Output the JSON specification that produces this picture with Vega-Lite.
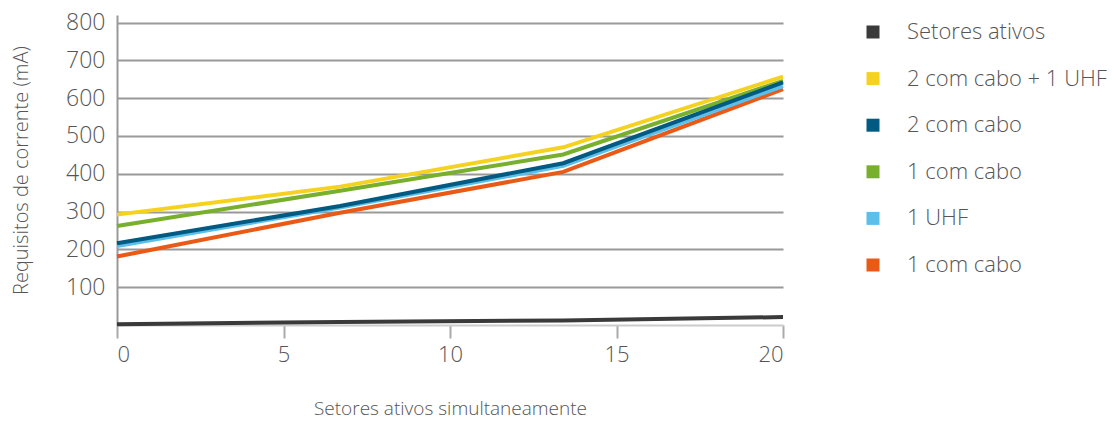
{
  "$schema": "https://vega.github.io/schema/vega-lite/v6.json",
  "width": 666,
  "height": 310,
  "autosize": {"type": "none"},
  "padding": {"left": 117, "top": 15, "right": 333, "bottom": 97},
  "config": {
    "view": {"stroke": null},
    "font": "Open Sans",
    "axis": {"labelColor": "#555", "titleColor": "#555", "labelFont": "Open Sans", "titleFont": "Open Sans", "labelFontWeight": 300, "titleFontWeight": 300}
  },
  "data": {
    "values": [
      {"x": 0, "y": 2, "s": "Setores ativos"},
      {"x": 6.7, "y": 8, "s": "Setores ativos"},
      {"x": 13.4, "y": 12, "s": "Setores ativos"},
      {"x": 20, "y": 21, "s": "Setores ativos"},
      {"x": 0, "y": 181, "s": "1 com cabo "},
      {"x": 6.7, "y": 297, "s": "1 com cabo "},
      {"x": 13.4, "y": 405, "s": "1 com cabo "},
      {"x": 20, "y": 624, "s": "1 com cabo "},
      {"x": 0, "y": 209, "s": "1 UHF"},
      {"x": 6.7, "y": 311, "s": "1 UHF"},
      {"x": 13.4, "y": 421, "s": "1 UHF"},
      {"x": 20, "y": 632, "s": "1 UHF"},
      {"x": 0, "y": 262, "s": "1 com cabo"},
      {"x": 6.7, "y": 355, "s": "1 com cabo"},
      {"x": 13.4, "y": 451, "s": "1 com cabo"},
      {"x": 20, "y": 646, "s": "1 com cabo"},
      {"x": 0, "y": 216, "s": "2 com cabo"},
      {"x": 6.7, "y": 315, "s": "2 com cabo"},
      {"x": 13.4, "y": 428, "s": "2 com cabo"},
      {"x": 20, "y": 642, "s": "2 com cabo"},
      {"x": 0, "y": 292, "s": "2 com cabo + 1 UHF"},
      {"x": 6.7, "y": 366, "s": "2 com cabo + 1 UHF"},
      {"x": 13.4, "y": 470, "s": "2 com cabo + 1 UHF"},
      {"x": 20, "y": 657, "s": "2 com cabo + 1 UHF"}
    ]
  },
  "mark": {"type": "line", "strokeWidth": 4, "strokeCap": "butt"},
  "encoding": {
    "x": {
      "field": "x", "type": "quantitative",
      "scale": {"domain": [0, 20], "nice": false},
      "axis": {
        "values": [0, 5, 10, 15, 20], "grid": false,
        "title": "Setores ativos simultaneamente", "titleFontSize": 19, "titlePadding": 34,
        "labelFontSize": 22, "labelPadding": 6, "tickSize": 13, "tickColor": "#aaa", "tickWidth": 2,
        "domainColor": "#ccc", "domainWidth": 2
      }
    },
    "y": {
      "field": "y", "type": "quantitative",
      "scale": {"domain": [0, 820], "nice": false},
      "axis": {
        "values": [100, 200, 300, 400, 500, 600, 700, 800],
        "grid": true, "gridColor": "#999", "gridWidth": 2,
        "domainColor": "#999", "domainWidth": 2, "ticks": false, "tickSize": 0,
        "labelFontSize": 23, "labelPadding": 12,
        "title": "Requisitos de corrente (mA)", "titleFontSize": 20, "titlePadding": 34
      }
    },
    "color": {
      "field": "s", "type": "nominal",
      "scale": {
        "domain": ["Setores ativos", "2 com cabo + 1 UHF", "2 com cabo", "1 com cabo", "1 UHF", "1 com cabo "],
        "range": ["#3a3a3a", "#f5d21f", "#005a82", "#78b02e", "#5bbfea", "#ea5a16"]
      },
      "legend": {
        "title": null, "orient": "none", "legendX": 745, "legendY": 6,
        "symbolType": "square", "symbolSize": 169, "symbolStrokeWidth": 0, "symbolOpacity": 1,
        "labelFontSize": 22, "labelFont": "Open Sans", "labelFontWeight": 300, "labelColor": "#555",
        "labelOffset": 23, "rowPadding": 24.6, "labelLimit": 400,
        "encode": {
          "symbols": {
            "update": {
              "fill": {"scale": "color", "field": "value"},
              "stroke": {"value": "transparent"},
              "strokeWidth": {"value": 0}
            }
          }
        }
      }
    },
    "order": {"field": "x"}
  }
}
